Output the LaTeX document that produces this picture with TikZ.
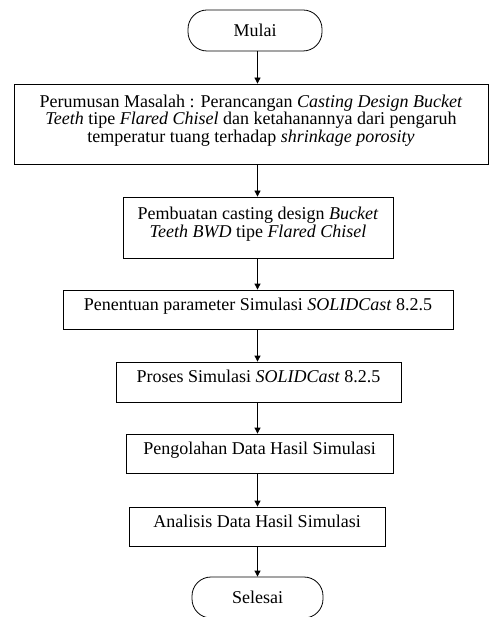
\documentclass[tikz,border=0pt]{standalone}
\usepackage{fontspec}
\setmainfont{Liberation Serif}
\usetikzlibrary{arrows.meta,calc}

\tikzset{
  basebox/.style={draw, line width=0.8pt, align=center, inner sep=1pt,
                  font=\fontsize{18}{17.6}\selectfont},
  stepbox/.style={basebox, text depth=11pt},
  terminal/.style={basebox, rounded corners=19pt, minimum width=134pt, minimum height=41pt},
  arr/.style={line width=0.8pt, -{Triangle[length=6pt,width=6pt]}}
}

\begin{document}
\begin{tikzpicture}[x=1pt, y=-1pt]
  \useasboundingbox (0,0) rectangle (491,617);
  \clip (0,0) rectangle (491,617);

  % flow nodes
  \node[terminal] (mulai) at (255,30.5) {Mulai};
  \node[stepbox, minimum width=474pt, minimum height=80pt] (p1) at (251,124)
    {Perumusan Masalah : Perancangan \textit{Casting Design Bucket}\\
     \textit{Teeth} tipe \textit{Flared Chisel} dan ketahanannya dari pengaruh\\
     temperatur tuang terhadap \textit{shrinkage porosity}};
  \node[stepbox, minimum width=270pt, minimum height=61pt] (p2) at (258,227.5)
    {Pembuatan casting design \textit{Bucket}\\
     \textit{Teeth BWD} tipe \textit{Flared Chisel}};
  \node[stepbox, minimum width=390pt, minimum height=39pt] (p3) at (258,309.5)
    {Penentuan parameter Simulasi \textit{SOLIDCast} 8.2.5};
  \node[stepbox, minimum width=285pt, minimum height=40pt] (p4) at (258.5,382)
    {Proses Simulasi \textit{SOLIDCast} 8.2.5};
  \node[stepbox, minimum width=267pt, minimum height=39pt] (p5) at (259.5,453.5)
    {Pengolahan Data Hasil Simulasi};
  \node[stepbox, minimum width=256pt, minimum height=39pt] (p6) at (257,526.5)
    {Analisis Data Hasil Simulasi};
  \node[terminal, minimum width=131pt] (selesai) at (257.5,597.5) {Selesai};

  % connectors along the common vertical axis
  \coordinate (axis) at (257.5,0);
  \draw[arr] (axis |- mulai.south) -- (axis |- p1.north);
  \draw[arr] (axis |- p1.south) -- (axis |- p2.north);
  \draw[arr] (axis |- p2.south) -- (axis |- p3.north);
  \draw[arr] (axis |- p3.south) -- (axis |- p4.north);
  \draw[arr] (axis |- p4.south) -- (axis |- p5.north);
  \draw[arr] (axis |- p5.south) -- (axis |- p6.north);
  \draw[arr] (axis |- p6.south) -- (axis |- selesai.north);
\end{tikzpicture}
\end{document}
